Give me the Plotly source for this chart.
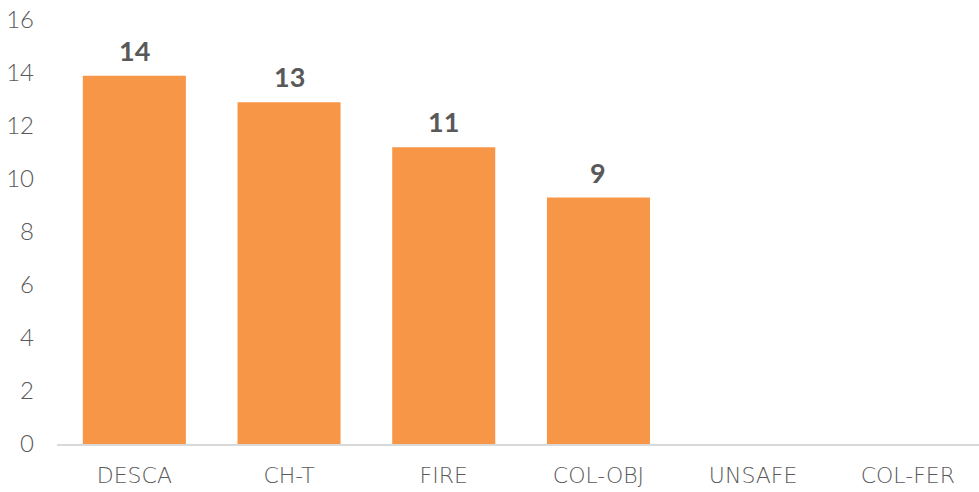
import plotly.graph_objects as go

categories = ["DESCA", "CH-T", "FIRE", "COL-OBJ", "UNSAFE", "COL-FER"]
values = [13.9, 12.9, 11.2, 9.3, 0, 0]
labels = ["14", "13", "11", "9", "", ""]
y_ticks = [0, 2, 4, 6, 8, 10, 12, 14, 16]

fig = go.Figure(go.Bar(
    x=categories, y=values,
    marker=dict(color="#F79646", line=dict(width=0)),
))

for c, v, t in zip(categories, values, labels):
    if t:
        fig.add_annotation(
            x=c, y=v, text=t, showarrow=False,
            yanchor="bottom", yshift=7,
            font=dict(family="Lato, sans-serif", size=27, color="#595959", weight="bold"),
        )

fig.update_layout(
    width=979, height=492,
    margin=dict(l=57, r=0, t=20, b=48),
    paper_bgcolor="white", plot_bgcolor="white",
    bargap=0.334,
    showlegend=False,
    font=dict(family="Lato, Open Sans, sans-serif", color="#595959"),
)
fig.update_xaxes(
    range=[-0.5, 5.46],
    showline=True, linecolor="#D9D9D9", linewidth=2,
    showgrid=False, ticks="",
    tickfont=dict(size=22, color="#595959", family="DejaVu Sans, sans-serif", weight=300),
    ticklabelstandoff=11,
)
fig.update_yaxes(
    range=[0, 16], tickvals=y_ticks,
    showgrid=False, zeroline=False, showline=False, ticks="",
    tickfont=dict(size=24, color="#595959", family="Lato, sans-serif", weight=300),
    ticklabelstandoff=22,
)
fig.write_html("out.html")
